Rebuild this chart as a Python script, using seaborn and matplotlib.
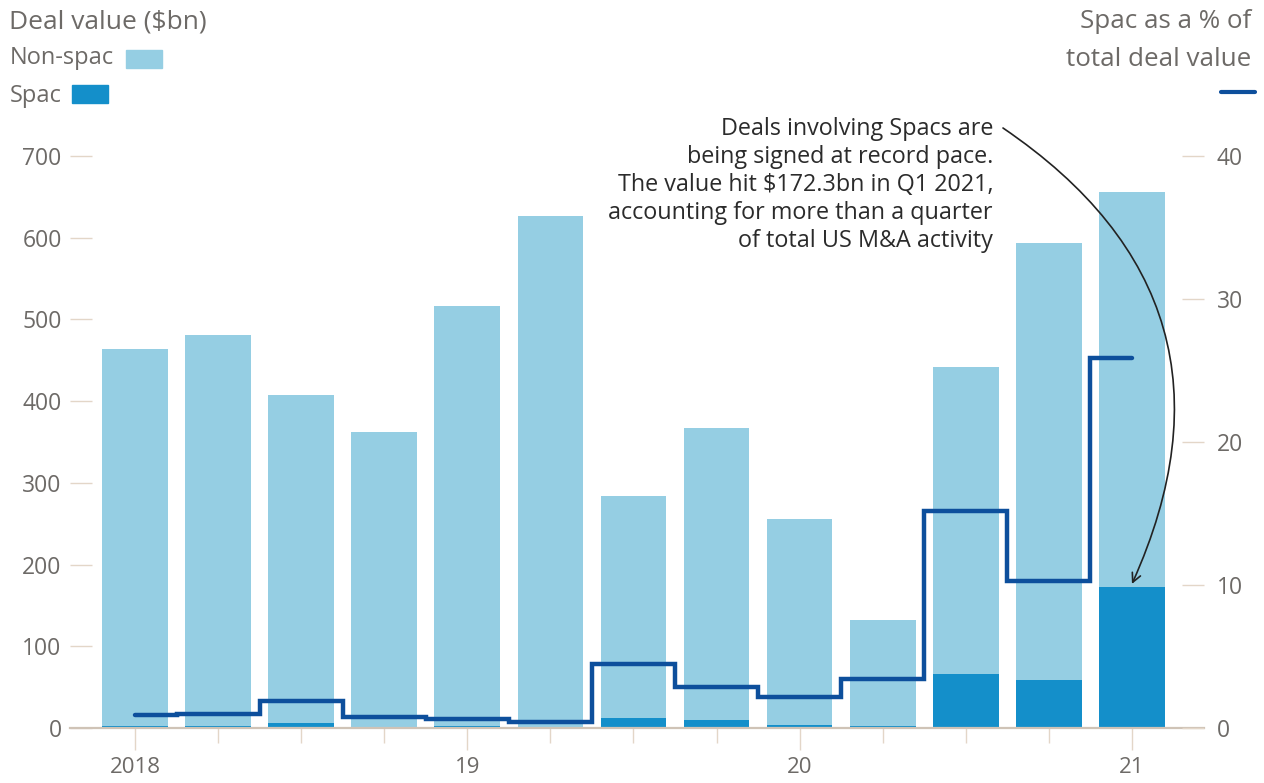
import numpy as np
import pandas as pd
import matplotlib
matplotlib.use("Agg")
import matplotlib.pyplot as plt
from matplotlib.ticker import FixedLocator
from matplotlib.patches import Rectangle
from matplotlib.lines import Line2D
import seaborn as sns

# Quarterly US M&A deal value, Q1 2018 - Q1 2021 ($bn)
quarters = ["2018 Q1", "2018 Q2", "2018 Q3", "2018 Q4",
            "2019 Q1", "2019 Q2", "2019 Q3", "2019 Q4",
            "2020 Q1", "2020 Q2", "2020 Q3", "2020 Q4",
            "2021 Q1"]
non_spac = [462, 479, 402, 360.5, 514, 625.5, 272, 357, 252, 129, 376, 535, 483.7]
spac = [2, 2, 6, 1.5, 2, 1.5, 12, 10, 4, 3, 66, 59, 172.3]
# Spac share of total deal value (%)
spac_share = [0.9, 1.0, 1.9, 0.8, 0.65, 0.4, 4.5, 2.9, 2.2, 3.4, 15.2, 10.3, 25.9]
year_labels = ["2018", "19", "20", "21"]
left_ticks = [0, 100, 200, 300, 400, 500, 600, 700]
right_ticks = [0, 10, 20, 30, 40]

LIGHT = "#95cee3"
DARK = "#148fca"
LINE = "#0d4f9c"
GREY = "#6d6a67"
TICKC = "#e3d6c8"
AXISC = "#cfc3b6"

sns.set_theme(style="white")
plt.rcParams["font.family"] = ["Open Sans", "DejaVu Sans"]

df = pd.DataFrame({
    "quarter": quarters,
    "total": np.add(non_spac, spac),
    "spac": spac,
    "pos": np.arange(len(quarters)),
    "share": spac_share,
})

W, H = 1264, 783
fig = plt.figure(figsize=(W / 100, H / 100), dpi=100)
x0, x1 = 70, 1204
y0, y1 = 728, 156
ax = fig.add_axes([x0 / W, 1 - y0 / H, (x1 - x0) / W, (y0 - y1) / H])

sns.barplot(data=df, x="quarter", y="total", order=quarters, color=LIGHT,
            saturation=1, width=0.79, ax=ax, linewidth=0)
sns.barplot(data=df, x="quarter", y="spac", order=quarters, color=DARK,
            saturation=1, width=0.79, ax=ax, linewidth=0)

ax.set_xlim(-0.782, 12.867)
ax.set_ylim(0, 700)
ax.set_xlabel("")
ax.set_ylabel("")

for s in ["top", "left", "right"]:
    ax.spines[s].set_visible(False)
ax.spines["bottom"].set_color(AXISC)
ax.spines["bottom"].set_linewidth(1.6)

# x ticks: long ticks at each year start, short ticks at other quarters
ax.xaxis.set_major_locator(FixedLocator([0, 4, 8, 12]))
ax.set_xticklabels(year_labels)
ax.xaxis.set_minor_locator(FixedLocator([1, 2, 3, 5, 6, 7, 9, 10, 11]))
ax.tick_params(axis="x", which="major", direction="out", length=16, width=1,
               color=TICKC, labelsize=16, labelcolor=GREY, pad=5, bottom=True)
ax.tick_params(axis="x", which="minor", direction="out", length=11, width=1,
               color=TICKC, bottom=True)

ax.set_yticks(left_ticks)
ax.tick_params(axis="y", direction="in", length=16, width=1, color=TICKC,
               labelsize=16.5, labelcolor=GREY, pad=6, left=True)

ax2 = ax.twinx()
sns.lineplot(data=df, x="pos", y="share", ax=ax2, color=LINE, linewidth=3.2,
             drawstyle="steps-mid", solid_joinstyle="miter", legend=False)
ax2.set_ylim(0, 40)
ax2.set_xlim(-0.782, 12.867)
ax2.set_ylabel("")
ax2.set_xlabel("")
for s in ["top", "left", "right", "bottom"]:
    ax2.spines[s].set_visible(False)
ax2.set_yticks(right_ticks)
ax2.tick_params(axis="y", direction="in", length=16, width=1, color=TICKC,
                labelsize=16.5, labelcolor=GREY, pad=9, right=True)

# Headers and legend keys
fig.text(9 / W, 1 - 22 / H, "Deal value ($bn)", fontsize=19, color=GREY,
         ha="left", va="center")
fig.text(10 / W, 1 - 58 / H, "Non-spac", fontsize=17, color=GREY,
         ha="left", va="center")
fig.text(10 / W, 1 - 96 / H, "Spac", fontsize=17, color=GREY,
         ha="left", va="center")
fig.patches.append(Rectangle((126 / W, 1 - 68 / H), 36 / W, 18 / H,
                             transform=fig.transFigure, color=LIGHT))
fig.patches.append(Rectangle((72 / W, 1 - 103 / H), 36 / W, 18 / H,
                             transform=fig.transFigure, color=DARK))

fig.text(1251 / W, 1 - 21 / H, "Spac as a % of", fontsize=18.7, color=GREY,
         ha="right", va="center")
fig.text(1251 / W, 1 - 60 / H, "total deal value", fontsize=18.7, color=GREY,
         ha="right", va="center")
fig.lines.append(Line2D([1221 / W, 1255 / W], [1 - 92 / H, 1 - 92 / H],
                        transform=fig.transFigure, color=LINE, linewidth=3))

# Annotation with curved arrow pointing at the Q1 2021 Spac bar
note = ("Deals involving Spacs are\n"
        "being signed at record pace.\n"
        "The value hit $172.3bn in Q1 2021,\n"
        "accounting for more than a quarter\n"
        "of total US M&A activity")
fig.text(993 / W, 1 - 185 / H, note, fontsize=16.8, color="#2b2b2b",
         ha="right", va="center", linespacing=1.22)
ax.annotate("", xy=(12, spac[-1] + 4), xycoords="data",
            xytext=(1003 / W, 1 - 128 / H), textcoords="figure fraction",
            arrowprops=dict(arrowstyle="->", color="#222222", lw=1.2,
                            connectionstyle="arc3,rad=-0.42",
                            shrinkA=0, shrinkB=0, mutation_scale=16),
            annotation_clip=False)

fig.savefig("out.png", dpi=100)
